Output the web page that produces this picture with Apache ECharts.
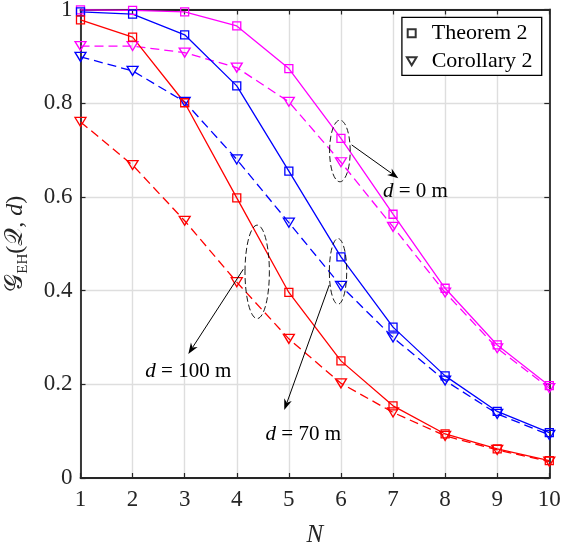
<!DOCTYPE html>
<html>
<head>
<meta charset="utf-8">
<script src="https://cdn.jsdelivr.net/npm/echarts@6/dist/echarts.min.js"></script>
<style>
  html, body { margin: 0; padding: 0; background: #fff; }
  #chart { width: 561px; height: 544px; }
</style>
</head>
<body>
<div id="chart"></div>
<script>
// Number of antennas N on the horizontal axis
const nValues = [1, 2, 3, 4, 5, 6, 7, 8, 9, 10];
const yTicks = [0, 0.2, 0.4, 0.6, 0.8, 1];

// Theorem 2 (exact) and Corollary 2 (approximation) for each distance d
const thmD0   = [0.999, 0.998, 0.995, 0.965, 0.874, 0.725, 0.563, 0.405, 0.284, 0.197];
const corD0   = [0.922, 0.922, 0.908, 0.876, 0.803, 0.674, 0.536, 0.396, 0.277, 0.192];
const thmD70  = [0.995, 0.990, 0.946, 0.837, 0.655, 0.472, 0.322, 0.218, 0.142, 0.097];
const corD70  = [0.899, 0.869, 0.803, 0.680, 0.545, 0.410, 0.300, 0.208, 0.137, 0.092];
const thmD100 = [0.978, 0.941, 0.801, 0.598, 0.396, 0.250, 0.154, 0.094, 0.062, 0.037];
const corD100 = [0.760, 0.668, 0.549, 0.418, 0.297, 0.202, 0.140, 0.090, 0.060, 0.035];

// Callouts: ellipse [cx, cy, rx, ry], arrow [from, to], label position, all in data units
const callouts = [
  { label: '0 m',   ellipse: [5.98, 0.698, 0.198, 0.0657], arrow: [[6.206, 0.711], [7.101, 0.640]], at: [7.43, 0.611] },
  { label: '70 m',  ellipse: [5.944, 0.441, 0.167, 0.070], arrow: [[5.776, 0.412], [4.912, 0.145]], at: [5.277, 0.092] },
  { label: '100 m', ellipse: [4.392, 0.440, 0.234, 0.0997], arrow: [[4.125, 0.4455], [3.070, 0.2647]], at: [3.07, 0.227] }
];

const SERIF = '"Liberation Serif", "DejaVu Serif", serif';
const AXIS_COLOR = '#262626';
const MAGENTA = '#ff00ff', BLUE = '#0000ff', RED = '#ff0000';
const SQUARE = 'path://M0,0 L10,0 L10,10 L0,10 Z';
const TRIANGLE_DOWN = 'path://M0,0 L12,0 L6,10 Z';

function pairs(ys) { return nValues.map((n, i) => [n, ys[i]]); }

function curve(name, ys, color, dashed) {
  return {
    name: name,
    type: 'line',
    data: pairs(ys),
    symbol: dashed ? TRIANGLE_DOWN : SQUARE,
    symbolSize: dashed ? [11, 9] : 8,
    showSymbol: true,
    lineStyle: { color: color, width: 1.3, type: dashed ? [9, 5] : 'solid' },
    itemStyle: { color: 'rgba(0,0,0,0)', borderColor: color, borderWidth: 1.3 },
    emphasis: { disabled: true },
    animation: false,
    z: 3
  };
}

const chart = echarts.init(document.getElementById('chart'), null, { renderer: 'canvas' });

const grid = { left: 80.5, right: 11.7, top: 9.5, bottom: 66, containLabel: false, outerBoundsMode: 'none' };

const tickStyle = { show: true, inside: true, length: 5, lineStyle: { color: AXIS_COLOR, width: 1.2 } };
const frameLine = { show: true, onZero: false, lineStyle: { color: AXIS_COLOR, width: 1.8 } };

chart.setOption({
  backgroundColor: '#fff',
  animation: false,
  grid: grid,
  xAxis: [
    {
      type: 'value', min: 1, max: 10, interval: 1,
      name: 'N', nameLocation: 'middle', nameGap: 45,
      nameTextStyle: { fontFamily: SERIF, fontStyle: 'italic', fontSize: 25, color: AXIS_COLOR },
      axisLine: frameLine, axisTick: tickStyle,
      axisLabel: { margin: 10, fontFamily: SERIF, fontSize: 23, color: AXIS_COLOR },
      splitLine: { show: true, lineStyle: { color: '#dedede', width: 1.4 } }
    },
    {
      type: 'value', min: 1, max: 10, interval: 1, position: 'top',
      axisLine: frameLine, axisTick: tickStyle,
      axisLabel: { show: false }, splitLine: { show: false }
    }
  ],
  yAxis: [
    {
      type: 'value', min: yTicks[0], max: yTicks[yTicks.length - 1], interval: 0.2,
      name: '{g|𝒢}{sub|EH}{p|(}{g|𝒬}{p|, }{i|d}{p|)}',
      nameLocation: 'middle', nameRotate: 90, nameGap: 50,
      nameTextStyle: {
        fontFamily: SERIF, fontSize: 24, color: AXIS_COLOR,
        rich: {
          g: { fontFamily: SERIF, fontSize: 25, lineHeight: 30, color: AXIS_COLOR },
          sub: { fontFamily: SERIF, fontSize: 15, lineHeight: 15, verticalAlign: 'bottom', color: AXIS_COLOR },
          p: { fontFamily: SERIF, fontSize: 24, lineHeight: 30, color: AXIS_COLOR },
          i: { fontFamily: SERIF, fontStyle: 'italic', fontSize: 24, lineHeight: 30, color: AXIS_COLOR }
        }
      },
      axisLine: frameLine, axisTick: tickStyle,
      axisLabel: { margin: 8, fontFamily: SERIF, fontSize: 23, color: AXIS_COLOR },
      splitLine: { show: true, lineStyle: { color: '#dedede', width: 1.4 } }
    },
    {
      type: 'value', min: 0, max: 1, interval: 0.2, position: 'right',
      axisLine: frameLine, axisTick: tickStyle,
      axisLabel: { show: false }, splitLine: { show: false }
    }
  ],
  legend: {
    orient: 'vertical', right: 19.3, top: 17.3,
    padding: [5, 4, 3, 4],
    itemGap: 6, itemWidth: 30, itemHeight: 8,
    symbolKeepAspect: true,
    borderColor: '#000', borderWidth: 1.3, backgroundColor: '#fff',
    textStyle: { fontFamily: SERIF, fontSize: 22, color: '#000', lineHeight: 22, width: 106 },
    selectedMode: false,
    data: [
      { name: 'Theorem 2', icon: 'path://M0,0 L10,0 L10,10 L0,10 Z' },
      { name: 'Corollary 2', icon: 'path://M0,0 L12,0 L6,10 Z' }
    ]
  },
  series: [
    curve('d0 exact', thmD0, MAGENTA, false),
    curve('d0 approx', corD0, MAGENTA, true),
    curve('d70 exact', thmD70, BLUE, false),
    curve('d70 approx', corD70, BLUE, true),
    curve('d100 exact', thmD100, RED, false),
    curve('d100 approx', corD100, RED, true),
    {
      name: 'Theorem 2', type: 'scatter', data: [], symbol: SQUARE, symbolSize: 6,
      itemStyle: { color: '#fff', borderColor: '#000', borderWidth: 1 }
    },
    {
      name: 'Corollary 2', type: 'scatter', data: [], symbol: TRIANGLE_DOWN, symbolSize: [9, 8],
      itemStyle: { color: '#fff', borderColor: '#000', borderWidth: 1 }
    }
  ]
});

// Dashed ellipses, arrows and distance labels placed through the grid's coordinate system
function px(p) { return chart.convertToPixel({ gridIndex: 0 }, p); }

const graphics = [];
callouts.forEach(c => {
  const [cx, cy, rx, ry] = c.ellipse;
  const ctr = px([cx, cy]);
  const edgeX = px([cx + rx, cy]);
  const edgeY = px([cx, cy + ry]);
  graphics.push({
    type: 'ellipse',
    shape: { cx: ctr[0], cy: ctr[1], rx: Math.abs(edgeX[0] - ctr[0]), ry: Math.abs(ctr[1] - edgeY[1]) },
    style: { fill: 'none', stroke: '#000', lineWidth: 0.9, lineDash: [6, 3] },
    z: 10
  });

  const a = px(c.arrow[0]);
  const b = px(c.arrow[1]);
  const ang = Math.atan2(b[1] - a[1], b[0] - a[0]);
  const headLen = 11, headHalf = 4;
  const base = [b[0] - headLen * Math.cos(ang), b[1] - headLen * Math.sin(ang)];
  graphics.push({
    type: 'line',
    shape: { x1: a[0], y1: a[1], x2: base[0] + 3 * Math.cos(ang), y2: base[1] + 3 * Math.sin(ang) },
    style: { stroke: '#000', lineWidth: 1 },
    z: 10
  });
  graphics.push({
    type: 'polygon',
    shape: {
      points: [
        b,
        [base[0] + headHalf * Math.sin(ang), base[1] - headHalf * Math.cos(ang)],
        [b[0] - 0.7 * headLen * Math.cos(ang), b[1] - 0.7 * headLen * Math.sin(ang)],
        [base[0] - headHalf * Math.sin(ang), base[1] + headHalf * Math.cos(ang)]
      ]
    },
    style: { fill: '#000' },
    z: 10
  });

  const t = px(c.at);
  graphics.push({
    type: 'text',
    x: t[0], y: t[1],
    style: {
      text: '{i|d} = ' + c.label,
      align: 'center', verticalAlign: 'middle',
      fontFamily: SERIF, fontSize: 21, fill: '#000',
      rich: { i: { fontFamily: SERIF, fontStyle: 'italic', fontSize: 21, fill: '#000' } }
    },
    z: 10
  });
});

chart.setOption({ graphic: graphics });
</script>
</body>
</html>
